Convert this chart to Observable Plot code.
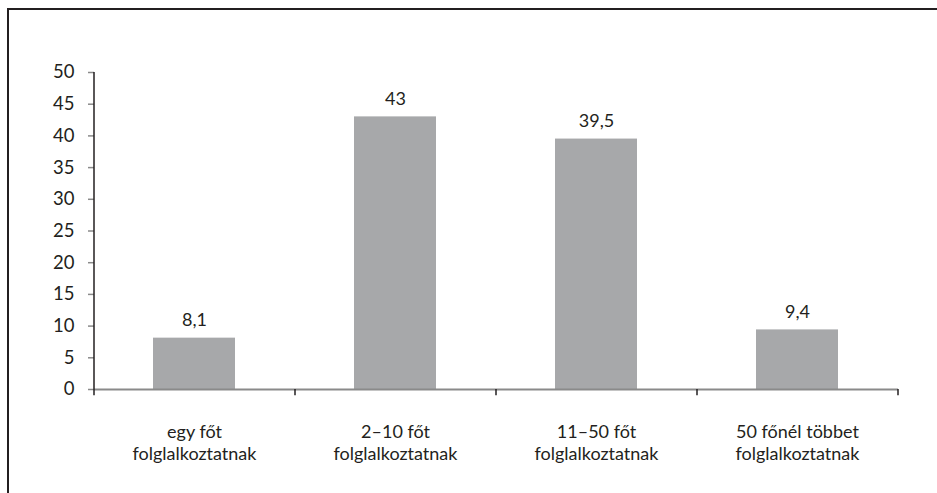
<!DOCTYPE html>
<html>
<head>
<meta charset="utf-8">
<script src="https://cdn.jsdelivr.net/npm/d3@7"></script>
<script src="https://cdn.jsdelivr.net/npm/@observablehq/plot@0.6"></script>
<style>
  html, body { margin: 0; padding: 0; background: #fff; }
  #wrap { position: relative; width: 937px; height: 493px; overflow: hidden; }
  #frame { position: absolute; left: 7px; top: 8px; width: 1000px; height: 1000px;
           border-top: 2px solid #231f20; border-left: 2px solid #231f20; box-sizing: border-box; pointer-events: none; }
</style>
</head>
<body>
<div id="wrap"><div id="frame"></div></div>
<script>
const categories = ["egy főt\nfolglalkoztatnak", "2–10 főt\nfolglalkoztatnak", "11–50 főt\nfolglalkoztatnak", "50 főnél többet\nfolglalkoztatnak"];
const values = [8.1, 43, 39.5, 9.4];
const valueLabels = ["8,1", "43", "39,5", "9,4"];
const yTicks = [0, 5, 10, 15, 20, 25, 30, 35, 40, 45, 50];

const data = categories.map((c, i) => ({cat: c, value: values[i], label: valueLabels[i],
  line1: c.split("\n")[0], line2: c.split("\n")[1]}));

const W = 937, H = 493;
const marginLeft = 94, marginRight = 39, marginTop = 72, marginBottom = 104;
const step = (W - marginLeft - marginRight) / categories.length;
const ink = "#231f20";

const chart = Plot.plot({
  width: W,
  height: H,
  marginLeft, marginRight, marginTop, marginBottom,
  style: {fontFamily: "Lato, sans-serif", fontSize: "18px", color: ink, background: "transparent"},
  x: {domain: categories, paddingInner: 0.59, paddingOuter: 0.295, axis: null},
  y: {domain: [0, 50], axis: null},
  marks: [
    Plot.barY(data, {x: "cat", y: "value", fill: "#a7a8aa"}),
    Plot.ruleY([0], {stroke: "#8a8a8a", strokeWidth: 2}),
    Plot.axisY({ticks: yTicks, anchor: "left", tickSize: 6, tickPadding: 14, stroke: "#8a8a8a", strokeWidth: 1.5,
                fill: ink, fontSize: 18.5, tickFormat: d => String(d), label: null}),
    Plot.ruleX([categories[0]], {x: d => d, dx: -step / 2, y1: -1, y2: 50, stroke: ink, strokeWidth: 1.5}),
    Plot.ruleX(categories.slice(1), {x: d => d, dx: -step / 2, y1: 0, y2: -1, stroke: ink, strokeWidth: 1.5}),
    Plot.ruleX([categories[categories.length - 1]], {x: d => d, dx: step / 2, y1: 0, y2: -1, stroke: ink, strokeWidth: 1.5}),
    Plot.text(data, {x: "cat", y: "value", text: "label", dy: -18, fill: ink, fontSize: 18}),
    Plot.text(data, {x: "cat", y: 0, text: "line1", dy: 42.5, fill: ink, fontSize: 18}),
    Plot.text(data, {x: "cat", y: 0, text: "line2", dy: 64.3, fill: ink, fontSize: 18})
  ]
});
document.getElementById("wrap").prepend(chart);
</script>
</body>
</html>
